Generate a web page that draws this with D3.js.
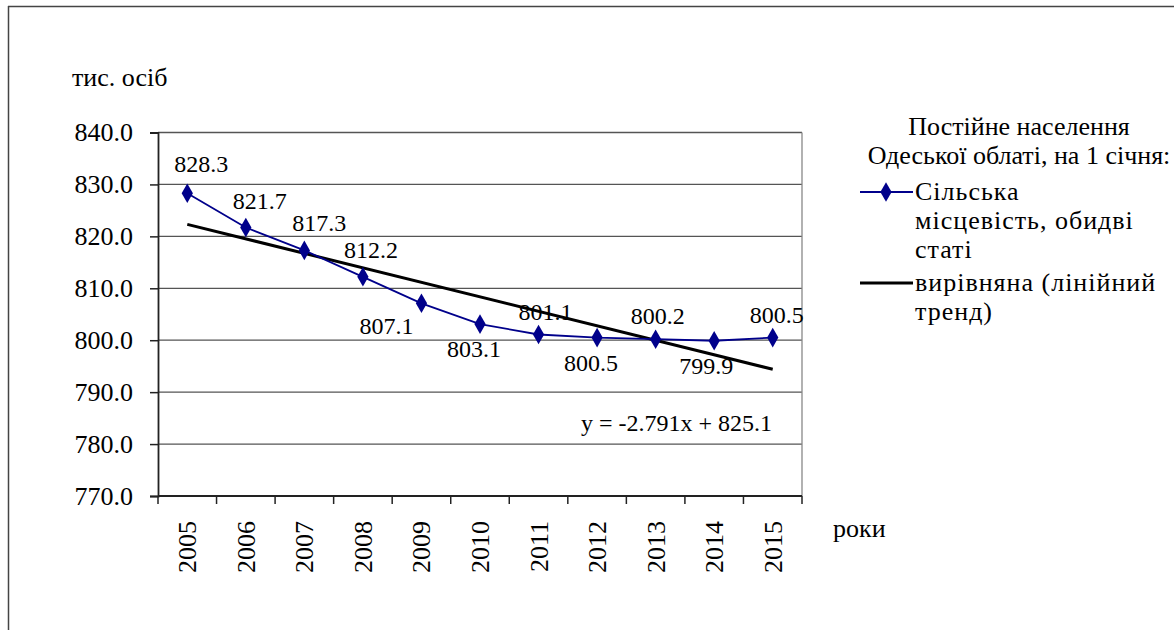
<!DOCTYPE html>
<html><head><meta charset="utf-8">
<script src="https://cdn.jsdelivr.net/npm/d3@7/dist/d3.min.js"></script>
<style>
body{margin:0;background:#fff;}
svg text{font-family:"Liberation Serif","Tinos","Times New Roman","DejaVu Serif",serif !important;fill:#000;}
</style></head>
<body><svg id="c" width="1174" height="630"></svg>
<script>
const years = ["2005","2006","2007","2008","2009","2010","2011","2012","2013","2014","2015"];
const values = [828.3, 821.7, 817.3, 812.2, 807.1, 803.1, 801.1, 800.5, 800.2, 799.9, 800.5];
const trendSlope = -2.791;
const trendIntercept = 825.1;
const yTicks = [770, 780, 790, 800, 810, 820, 830, 840];
const yAxisTitle = "тис. осіб";
const xAxisTitle = "роки";
const legendTitle = ["Постійне населення", "Одеської облаті, на 1 січня:"];
const seriesName = ["Сільська", "місцевість, обидві", "статі"];
const trendName = ["вирівняна (лінійний", "тренд)"];
const equation = "y = -2.791x + 825.1";

// label placement offsets (layout only)
const labelOffsets = [[14,-21],[14,-19],[15,-19],[8,-19],[-35,31],[-6,33],[7,-15],[-6,33],[2,-15],[-8,33],[4,-15]];

const svg = d3.select("#c");
const m = {l:158, r:802, t:132.5, b:496};
const fs = 26, fsLab = 24;

svg.append("line").attr("x1",8).attr("x2",1174).attr("y1",6.5).attr("y2",6.5).attr("stroke","#444").attr("stroke-width",1.5);
svg.append("line").attr("x1",8.5).attr("x2",8.5).attr("y1",6).attr("y2",630).attr("stroke","#444").attr("stroke-width",1.5);

const x = d3.scaleBand().domain(years).range([m.l, m.r]);
const y = d3.scaleLinear().domain([770, 840]).range([m.b, m.t]);

svg.append("g").selectAll("line").data(yTicks.slice(1)).join("line")
  .attr("x1", m.l).attr("x2", m.r).attr("y1", d=>y(d)).attr("y2", d=>y(d))
  .attr("stroke","#555").attr("stroke-width",1.3);
svg.append("line").attr("x1",m.r).attr("x2",m.r).attr("y1",m.t).attr("y2",m.b).attr("stroke","#888").attr("stroke-width",1.3);

const yAxis = d3.axisLeft(y).tickValues(yTicks).tickFormat(d3.format(".1f")).tickSize(8).tickPadding(17);
const gy = svg.append("g").attr("transform",`translate(${m.l},0)`).call(yAxis);
gy.attr("font-family",null).attr("font-size",null);
gy.select(".domain").attr("stroke","#222").attr("stroke-width",1.8);
gy.selectAll(".tick line").attr("stroke","#222").attr("stroke-width",1.5);
gy.selectAll("text").attr("font-size",fs).attr("fill","#111");

const xb = d3.scaleLinear().domain([0, years.length]).range([m.l, m.r]);
const gx = svg.append("g").attr("transform",`translate(0,${m.b})`);
gx.append("line").attr("x1",m.l).attr("x2",m.r).attr("stroke","#222").attr("stroke-width",1.8);
gx.selectAll(".tk").data(d3.range(years.length+1)).join("line").attr("class","tk")
  .attr("x1",d=>xb(d)).attr("x2",d=>xb(d)).attr("y1",0).attr("y2",8).attr("stroke","#222").attr("stroke-width",1.5);
gx.selectAll(".xl").data(years).join("text").attr("class","xl")
  .attr("transform", d=>`translate(${x(d)+x.bandwidth()/2+9},25) rotate(-90)`)
  .attr("text-anchor","end").attr("font-size",fs).text(d=>d);

svg.append("text").attr("x",72).attr("y",86).attr("font-size",fs).text(yAxisTitle);
svg.append("text").attr("x",833).attr("y",537).attr("font-size",fs).text(xAxisTitle);

const cx = d => x(d) + x.bandwidth()/2;

const n = years.length;
svg.append("path")
  .attr("d", d3.line()([[cx(years[0]), y(trendSlope*1+trendIntercept)],[cx(years[n-1]), y(trendSlope*n+trendIntercept)]]))
  .attr("stroke","#000").attr("stroke-width",3).attr("fill","none");

const line = d3.line().x((d,i)=>cx(years[i])).y(d=>y(d));
svg.append("path").datum(values).attr("d",line).attr("stroke","#00008b").attr("stroke-width",1.8).attr("fill","none");
const sym = d3.symbol().type(d3.symbolDiamond).size(110);
svg.append("g").selectAll("path").data(values).join("path")
  .attr("transform",(d,i)=>`translate(${cx(years[i])},${y(d)})`).attr("d",sym).attr("fill","#00008b");

svg.append("g").selectAll("text").data(values).join("text")
  .attr("x",(d,i)=>cx(years[i])+labelOffsets[i][0]).attr("y",(d,i)=>y(d)+labelOffsets[i][1])
  .attr("text-anchor","middle").attr("font-size",fsLab).attr("fill","#111").text(d=>d.toFixed(1));

svg.append("text").attr("x",772).attr("y",431).attr("text-anchor","end").attr("font-size",fsLab).text(equation);

const lg = svg.append("g");
lg.selectAll(".lt").data(legendTitle).join("text").attr("class","lt")
  .attr("x",1019).attr("y",(d,i)=>135+i*29).attr("text-anchor","middle").attr("font-size",fs).text(d=>d);
lg.append("line").attr("x1",860).attr("x2",913).attr("y1",192).attr("y2",192).attr("stroke","#00008b").attr("stroke-width",1.8);
lg.append("path").attr("transform","translate(886,192)").attr("d",sym).attr("fill","#00008b");
lg.selectAll(".sn").data(seriesName).join("text").attr("class","sn")
  .attr("x",915).attr("y",(d,i)=>200+i*29).attr("font-size",fs).attr("letter-spacing",1).text(d=>d);
lg.append("line").attr("x1",860).attr("x2",913).attr("y1",283).attr("y2",283).attr("stroke","#000").attr("stroke-width",3);
lg.selectAll(".tn").data(trendName).join("text").attr("class","tn")
  .attr("x",915).attr("y",(d,i)=>291+i*29).attr("font-size",fs).attr("letter-spacing",1).text(d=>d);
</script></body></html>
